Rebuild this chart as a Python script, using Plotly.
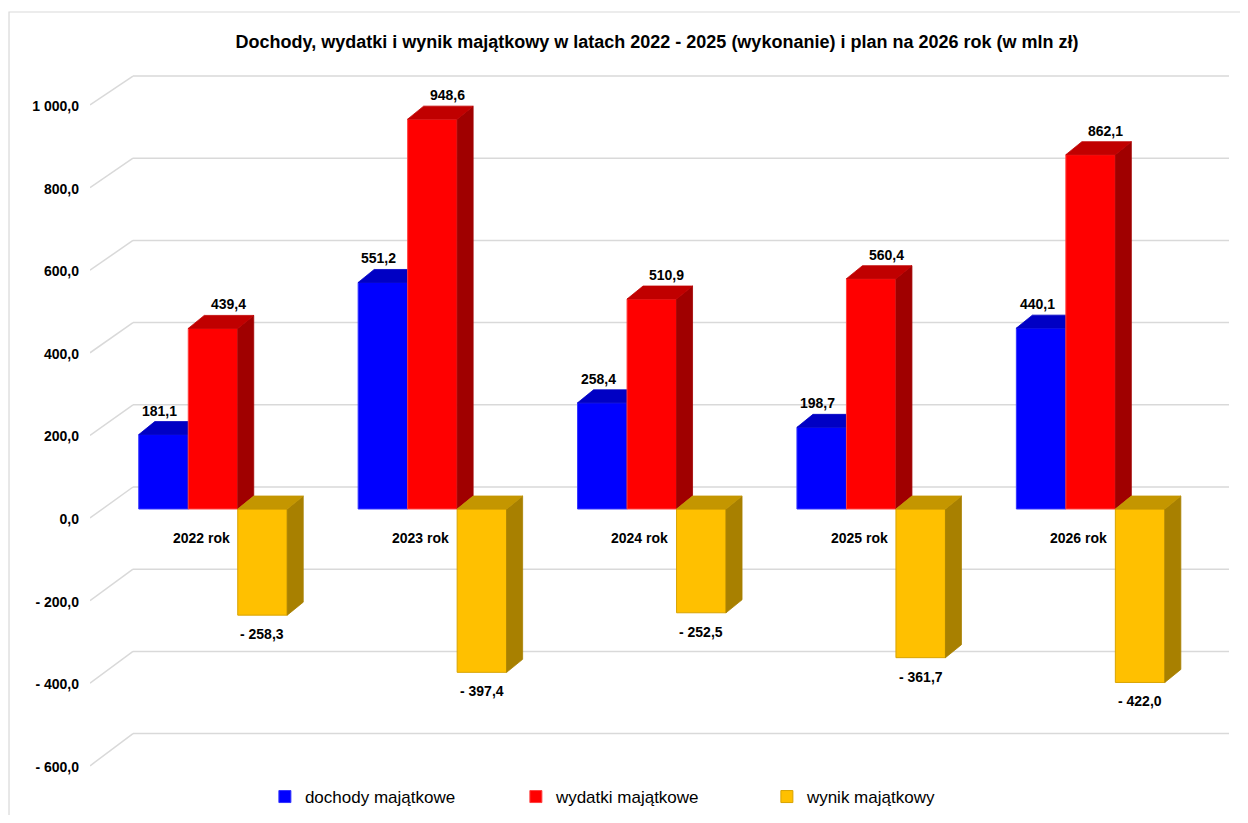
import plotly.graph_objects as go

# ---- data ----
categories = ["2022 rok", "2023 rok", "2024 rok", "2025 rok", "2026 rok"]
dochody = [181.1, 551.2, 258.4, 198.7, 440.1]
wydatki = [439.4, 948.6, 510.9, 560.4, 862.1]
wynik = [-258.3, -397.4, -252.5, -361.7, -422.0]
series_names = ["dochody majątkowe", "wydatki majątkowe", "wynik majątkowy"]
tick_values = [-600, -400, -200, 0, 200, 400, 600, 800, 1000]

# ---- styling / geometry ----
FONT = "Liberation Sans"
W = 0.2256            # bar width (category units)
DX = 0.0729           # depth offset x (category units)
DY = 31.6             # depth offset y (value units)
front_col = ["#0000FF", "#FF0000", "#FFC000"]
top_col = ["#0000C4", "#C00000", "#C49600"]
side_col = ["#00009A", "#A00000", "#A88000"]
line_col = ["#3333FF", "#FF4040", "#D9A300"]
offsets = [-1.5 * W, -0.5 * W, 0.5 * W]
XMIN, XMAX = -0.5606, 4.6308
XBACK = XMIN + 43 / 219.4

FIG_W, FIG_H = 1232, 807   # page body has an 8px margin
ML, MR, MT, MB = 82, 11, 52, 0
PLOT_TOP, PLOT_BOT = 60, 815   # page pixels
PLOT_H = PLOT_BOT - PLOT_TOP


def fmt(v):
    s = f"{abs(v):,.1f}".replace(",", " ").replace(".", ",")
    return ("- " + s) if v < 0 else s


xs = list(range(len(categories)))
all_series = [dochody, wydatki, wynik]

fig = go.Figure()
z = 1
for si, (name, vals) in enumerate(zip(series_names, all_series)):
    fig.add_trace(go.Bar(
        x=xs, y=vals, name=name, width=W, offset=offsets[si],
        marker=dict(color=front_col[si], line=dict(color=line_col[si], width=1)),
        zorder=z, hoverinfo="skip"))
    z += 1
    tx, ty, sx, sy = [], [], [], []
    for c, v in zip(xs, vals):
        x0 = c + offsets[si]
        x1 = x0 + W
        top = max(v, 0)
        tx += [x0, x1, x1 + DX, x0 + DX, x0, None]
        ty += [top, top, top + DY, top + DY, top, None]
        sx += [x1, x1, x1 + DX, x1 + DX, x1, None]
        sy += [0, v, v + DY, DY, 0, None]
    fig.add_trace(go.Scatter(x=sx, y=sy, mode="lines", fill="toself",
                             fillcolor=side_col[si], line=dict(width=0.8, color=side_col[si]),
                             showlegend=False, hoverinfo="skip", zorder=z))
    fig.add_trace(go.Scatter(x=tx, y=ty, mode="lines", fill="toself",
                             fillcolor=top_col[si], line=dict(width=0.8, color=top_col[si]),
                             showlegend=False, hoverinfo="skip", zorder=z))
    z += 1

# empty trace so that the front value axis (y2) is drawn
fig.add_trace(go.Scatter(x=[None], y=[None], yaxis="y2", showlegend=False, hoverinfo="skip"))

# gridlines (back wall + diagonal to front axis)
shapes = []
for v in tick_values:
    yb = v + 53.5
    yf = 1.005 * v - 21.9
    shapes.append(dict(type="line", xref="x", yref="y", x0=XBACK, x1=XMAX, y0=yb, y1=yb,
                       line=dict(color="#D9D9D9", width=1.5), layer="below"))
    shapes.append(dict(type="line", xref="x", yref="y", x0=XMIN, x1=XBACK, y0=yf, y1=yb,
                       line=dict(color="#D9D9D9", width=1.5), layer="below"))
# chart border
shapes.append(dict(type="rect", xref="paper", yref="paper", x0=-0.0711, x1=1.2, y0=-0.2,
                   y1=(PLOT_BOT - 12) / PLOT_H, line=dict(color="#D9D9D9", width=1.2)))

annotations = []
lab_font = dict(family=FONT, size=14, color="#000000", weight="bold")
xsh = [-4, 15, 0]
for si, vals in enumerate(all_series):
    for c, v in zip(xs, vals):
        xc = c + offsets[si] + W / 2
        if v >= 0:
            annotations.append(dict(x=xc, y=v, xref="x", yref="y", text=fmt(v), showarrow=False,
                                    xshift=xsh[si], yshift=24, font=lab_font))
        else:
            annotations.append(dict(x=xc, y=v, xref="x", yref="y", text=fmt(v), showarrow=False,
                                    xshift=xsh[si], yshift=-19, font=lab_font))
for c, cat in zip(xs, categories):
    annotations.append(dict(x=c, y=0, xref="x", yref="y", text=cat, showarrow=False,
                            xshift=-12, yshift=-29, font=lab_font))

fig.update_layout(
    width=FIG_W, height=FIG_H,
    margin=dict(l=ML, r=MR, t=MT, b=MB),
    paper_bgcolor="white", plot_bgcolor="white",
    barmode="overlay",
    title=dict(text="<b>Dochody, wydatki i wynik majątkowy w latach 2022 - 2025 (wykonanie) i plan na 2026 rok (w mln zł)</b>",
               x=649 / FIG_W, xanchor="center", y=1 - 34 / FIG_H, yanchor="middle",
               font=dict(family=FONT, size=18, color="#000000")),
    xaxis=dict(range=[XMIN, XMAX], visible=False, fixedrange=True),
    yaxis=dict(range=[-(PLOT_BOT - 509) / 0.411, (509 - PLOT_TOP) / 0.411], showgrid=False,
               zeroline=False, showticklabels=False, ticks=""),
    yaxis2=dict(range=[-(PLOT_BOT - 519) / 0.413, (519 - PLOT_TOP) / 0.413], overlaying="y",
                side="left", anchor="x", showgrid=False, zeroline=False, tickvals=tick_values,
                ticktext=[fmt(v) for v in tick_values], ticks="", ticklabelstandoff=10,
                tickfont=dict(family=FONT, size=14, color="#000000", weight="bold")),
    legend=dict(orientation="h", x=0.4841, xanchor="center", y=0.0,
                yanchor="bottom", font=dict(family=FONT, size=17, color="#000000"),
                entrywidth=206, itemwidth=30, traceorder="normal", bgcolor="rgba(0,0,0,0)"),
    shapes=shapes, annotations=annotations,
    showlegend=True,
)

fig.write_html("out.html")
